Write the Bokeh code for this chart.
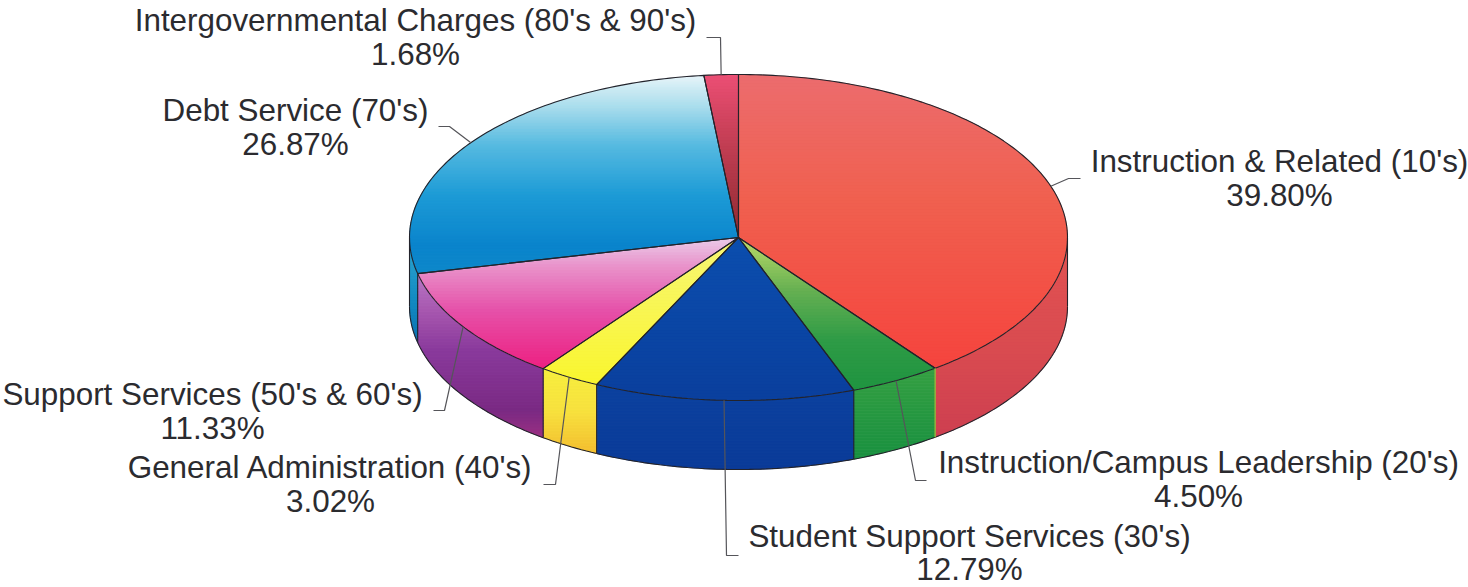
import math
from bokeh.plotting import figure
from bokeh.core.properties import value
from bokeh.embed import file_html
from bokeh.resources import INLINE

# ---- data ----
categories = ["Instruction & Related (10's)", "Instruction/Campus Leadership (20's)",
              "Student Support Services (30's)", "General Administration (40's)",
              "Support Services (50's & 60's)", "Debt Service (70's)",
              "Intergovernmental Charges (80's & 90's)"]
shares = [39.80, 4.50, 12.79, 3.02, 11.33, 26.87, 1.68]

# ---- styles: (pixel row, colour) gradient stops ----
top_stops = [
    [(74, "#ec6c6e"), (200, "#f0604f"), (367, "#f5443e")],
    [(237, "#bcdb68"), (290, "#66b052"), (340, "#2e9b46"), (390, "#1f9440")],
    [(237, "#0b4eae"), (390, "#0a409e")],
    [(237, "#f8f676"), (384, "#f9f62e")],
    [(237, "#eacdea"), (265, "#e994cb"), (310, "#e651a9"), (367, "#ed2182")],
    [(74, "#e8f5f9"), (105, "#acdeed"), (145, "#56bae0"), (195, "#1d9bd6"), (245, "#0a84cc"), (274, "#0e88ca")],
    [(74, "#ec4f75"), (130, "#ca4159"), (237, "#8f2a30")],
]
side_stops = [
    [(237, "#e25252"), (350, "#d94b50"), (440, "#cd3f50")],
    [(367, "#35a042"), (460, "#189040")],
    [(385, "#0c429f"), (470, "#0b3b98")],
    [(368, "#f8f03e"), (410, "#f8e23e"), (455, "#f4bd30")],
    [(273, "#b878c6"), (310, "#a858b0"), (350, "#8a3a9c"), (410, "#7a2a84"), (438, "#9c3082")],
    [(237, "#30a8d0"), (300, "#128ac2"), (345, "#0a70b0")],
    [(237, "#8f2a30"), (300, "#8f2a30")],
]
font_px = 31.4
line_gap = [34, 34, 33, 34, 34, 34, 34]
label_centres = [(1279, 161), (1198, 462), (969, 536), (330, 467), (212, 394), (295, 110), (415, 20)]
leader_bends = [
    [(1068, 178), (1080, 178)],
    [(915, 480), (926, 480)],
    [(726, 555), (738, 555)],
    [(555, 484), (543, 484)],
    [(444, 410), (433, 410)],
    [(449, 126), (438, 126)],
    [(720, 37), (706, 37)],
]

# ---- pie geometry in reference pixels ----
W, H = 1468, 587
cx, cy, rx, ry, depth = 738, 237, 329, 163, 69


def pt(t, dy=0.0):
    return cx + rx * math.sin(t), cy - ry * math.cos(t) + dy


def arc(a, b, dy=0.0, step=math.radians(1)):
    n = max(2, int(abs(b - a) / step) + 1)
    return [pt(a + (b - a) * i / n, dy) for i in range(n + 1)]


def hex2rgb(h):
    return tuple(int(h[i:i + 2], 16) for i in (1, 3, 5))


def colour_at(stops, y):
    if y <= stops[0][0]:
        return stops[0][1]
    for (y0, c0), (y1, c1) in zip(stops, stops[1:]):
        if y <= y1:
            f = (y - y0) / (y1 - y0)
            a, b = hex2rgb(c0), hex2rgb(c1)
            return "#%02x%02x%02x" % tuple(round(u + (v - u) * f) for u, v in zip(a, b))
    return stops[-1][1]


def clip(poly, y0, y1):
    def half(points, keep, cut):
        out = []
        for i, p in enumerate(points):
            q = points[(i + 1) % len(points)]
            if keep(p):
                out.append(p)
            if keep(p) != keep(q):
                f = (cut - p[1]) / (q[1] - p[1])
                out.append((p[0] + (q[0] - p[0]) * f, cut))
        return out
    r = half(poly, lambda p: p[1] >= y0, y0)
    if r:
        r = half(r, lambda p: p[1] <= y1, y1)
    return r


def bands(poly, stops, xs, ys, cs, h=3.0):
    lo = min(p[1] for p in poly)
    hi = max(p[1] for p in poly)
    y = lo
    while y < hi:
        piece = clip(poly, y, min(y + h + 0.6, hi))
        if len(piece) > 2:
            xs.append([p[0] for p in piece])
            ys.append([p[1] for p in piece])
            cs.append(colour_at(stops, y + h / 2))
        y += h


p = figure(width=W, height=H, x_range=(0, W), y_range=(H, 0), output_backend="svg",
           toolbar_location=None, min_border=0, outline_line_color=None,
           background_fill_color="white", border_fill_color="white",
           styles={"position": "absolute", "left": "0px", "top": "0px"})
p.axis.visible = False
p.grid.visible = False

edges = [0.0]
for s in shares:
    edges.append(edges[-1] + s)
total = edges[-1]
angles = [2 * math.pi * e / total for e in edges]

xs, ys, cs = [], [], []
side_lines = []
front_a, front_b = math.pi / 2, 3 * math.pi / 2
for i in range(len(shares)):
    a, b = angles[i], angles[i + 1]
    sa, sb = max(a, front_a), min(b, front_b)
    if sa < sb:
        rim = arc(sa, sb)
        low = arc(sb, sa, depth)
        bands(rim + low, side_stops[i], xs, ys, cs)
        side_lines.append(arc(sa, sb, depth))
for i in range(len(shares)):
    a, b = angles[i], angles[i + 1]
    wedge = [(cx, cy)] + arc(a, b)
    bands(wedge, top_stops[i], xs, ys, cs)
p.patches(xs, ys, fill_color=cs, line_color=cs, line_width=0.4)

# outlines
ink = "#23232b"
lx, ly = [], []
for i in range(len(shares)):
    a, b = angles[i], angles[i + 1]
    rim = arc(a, b)
    lx.append([cx] + [q[0] for q in rim] + [cx])
    ly.append([cy] + [q[1] for q in rim] + [cy])
for seg in side_lines:
    lx.append([q[0] for q in seg])
    ly.append([q[1] for q in seg])
for t in [front_a, front_b] + [x for x in angles[2:] if front_a < x < front_b]:
    q0, q1 = pt(t), pt(t, depth)
    lx.append([q0[0], q1[0]])
    ly.append([q0[1], q1[1]])
p.multi_line(lx, ly, line_color=ink, line_width=1.1)
# the wall edge between red and green prints olive in the reference
q0, q1 = pt(angles[1]), pt(angles[1], depth)
p.line([q0[0], q1[0]], [q0[1], q1[1]], line_color="#9fb83c", line_width=1.3)

# leaders
for i, bend in enumerate(leader_bends):
    mid = (angles[i] + angles[i + 1]) / 2
    start = pt(mid)
    p.line([start[0]] + [q[0] for q in bend], [start[1]] + [q[1] for q in bend],
           line_color="#55555a", line_width=1.2)

# labels
tx, ty, tt = [], [], []
for (x, y), gap, name, s in zip(label_centres, line_gap, categories, shares):
    tx += [x, x]
    ty += [y, y + gap]
    tt += [name, "%.2f%%" % s]
p.text(tx, ty, text=tt, text_font=value("Liberation Sans"), text_font_size=f"{font_px}px",
       text_align="center", text_baseline="middle", text_color="#2b2b2f")

open("out.html", "w").write(file_html(p, INLINE))
